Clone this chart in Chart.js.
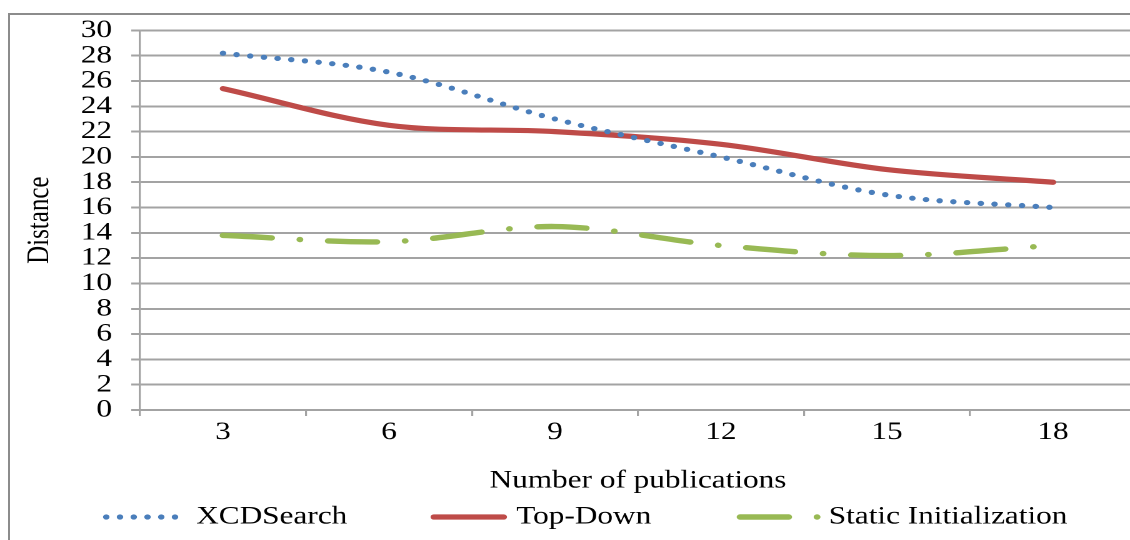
<!DOCTYPE html>
<html>
<head>
<meta charset="utf-8">
<script src="https://cdn.jsdelivr.net/npm/chart.js@4.4.1/dist/chart.umd.min.js"></script>
<style>
    html, body { margin: 0; padding: 0; background: #fff; overflow: hidden; width: 1130px; height: 540px; }
    #frame { position: absolute; left: 8px; top: 13px; width: 2000px; height: 1000px;
             border-left: 2px solid #8c8c8c; border-top: 2px solid #8c8c8c; }
    /* the source picture is stretched sideways, so the chart is drawn narrow and widened */
    #wrap { position: absolute; left: 0; top: 0; transform: scaleX(1.25); transform-origin: 0 0; }
</style>
</head>
<body>
<div id="frame"></div>
<div id="wrap"><canvas id="distChart" width="912" height="540"></canvas></div>
<script>
// Chart data
const categories = ['3', '6', '9', '12', '15', '18'];
const xcdSearch = [28.2, 26.7, 23.0, 20.0, 17.0, 16.0];
const topDown = [25.4, 22.5, 22.0, 21.0, 19.0, 18.0];
const staticInit = [13.8, 13.3, 14.5, 13.0, 12.2, 13.0];
const seriesNames = ['XCDSearch', 'Top-Down', 'Static Initialization'];
const yMin = 0, yMax = 30, yStep = 2;

const FONT = "'Liberation Serif', 'Times New Roman', serif";
const FONT_SIZE = 25;
const TEXT = '#000';
const GRID = '#a3a3a3';

// where the legend samples sit (logical px, before the sideways stretch)
const legendSpots = [
    { x0: 85, x1: 141, tx: 157 },
    { x0: 347, x1: 403, tx: 413 },
    { x0: 592, x1: 654, tx: 663 }
];

const lineLegend = {
    id: 'lineLegend',
    afterDraw(chart) {
        const ctx = chart.ctx;
        const y = 517;
        chart.data.datasets.forEach((ds, i) => {
            const spot = legendSpots[i];
            ctx.save();
            ctx.strokeStyle = ds.borderColor;
            ctx.lineWidth = ds.borderWidth;
            ctx.lineCap = ds.borderCapStyle || 'butt';
            ctx.setLineDash(ds.borderDash || []);
            ctx.beginPath();
            ctx.moveTo(spot.x0, y);
            ctx.lineTo(spot.x1, y);
            ctx.stroke();
            ctx.setLineDash([]);
            ctx.fillStyle = TEXT;
            ctx.font = FONT_SIZE + 'px ' + FONT;
            ctx.textBaseline = 'middle';
            ctx.textAlign = 'left';
            ctx.fillText(ds.label, spot.tx, y);
            ctx.restore();
        });
    }
};

const ctx = document.getElementById('distChart').getContext('2d');

new Chart(ctx, {
    type: 'line',
    data: {
        labels: categories,
        datasets: [
            {
                label: seriesNames[0],
                data: xcdSearch,
                borderColor: '#4a7ebb',
                borderWidth: 5.2,
                borderCapStyle: 'round',
                borderDash: [0, 11],
                tension: 0.33,
                pointRadius: 0,
                fill: false
            },
            {
                label: seriesNames[1],
                data: topDown,
                borderColor: '#be4b48',
                borderWidth: 5.2,
                borderCapStyle: 'round',
                tension: 0.33,
                pointRadius: 0,
                fill: false
            },
            {
                label: seriesNames[2],
                data: staticInit,
                borderColor: '#98b954',
                borderWidth: 5.4,
                borderCapStyle: 'round',
                borderDash: [39, 22.6, 0.1, 22.6],
                tension: 0.33,
                pointRadius: 0,
                fill: false
            }
        ]
    },
    options: {
        responsive: false,
        animation: false,
        devicePixelRatio: 2,
        layout: { padding: { top: 28, left: 0, right: 3.2, bottom: 0 } },
        plugins: {
            legend: { display: false },
            tooltip: { enabled: false }
        },
        scales: {
            x: {
                offset: true,
                grid: {
                    offset: true,
                    drawOnChartArea: false,
                    drawTicks: true,
                    tickLength: 6,
                    color: GRID,
                    lineWidth: 1.6
                },
                border: { display: true, color: GRID, width: 2 },
                ticks: {
                    color: TEXT,
                    padding: 1.5,
                    maxRotation: 0,
                    font: { family: FONT, size: FONT_SIZE }
                },
                title: {
                    display: true,
                    text: 'Number of publications',
                    color: TEXT,
                    font: { family: FONT, size: FONT_SIZE },
                    padding: { top: 0, bottom: 44 }
                },
                afterFit: (scale) => { scale.height = 130; }
            },
            y: {
                min: yMin,
                max: yMax,
                grid: {
                    color: GRID,
                    lineWidth: 2,
                    drawTicks: true,
                    tickLength: 7
                },
                border: { display: true, color: GRID, width: 1.6 },
                ticks: {
                    stepSize: yStep,
                    autoSkip: false,
                    color: TEXT,
                    padding: 15.4,
                    font: { family: FONT, size: FONT_SIZE }
                },
                title: {
                    display: true,
                    text: 'Distance',
                    color: TEXT,
                    font: { family: FONT, size: FONT_SIZE },
                    padding: { top: 17, bottom: 0 }
                },
                afterFit: (scale) => { scale.width = 112; }
            }
        }
    },
    plugins: [lineLegend]
});
</script>
</body>
</html>
